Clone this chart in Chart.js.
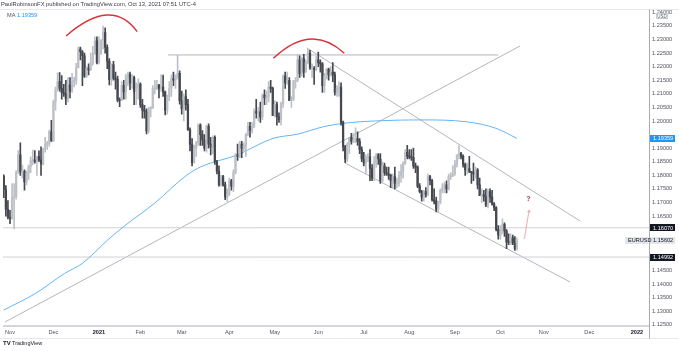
<!DOCTYPE html>
<html><head><meta charset="utf-8">
<script src="https://cdn.jsdelivr.net/npm/chart.js@4"></script>
<style>html,body{margin:0;padding:0;background:#fff;overflow:hidden}</style>
</head><body>
<canvas id="c" width="679" height="351" style="display:block;width:679px;height:351px"></canvas>
<script>
// ---- DATA (EURUSD daily) ----
const firstBar = -3; // bar index of the first candle (Oct 28 2020); Nov 2 2020 = 0
const openP = [
1.1795,1.1748,1.1675,
1.1646,1.1641,1.1717,1.1723,1.1812,1.1875,1.1813,1.1814,1.1776,1.1808,1.1833,1.1853,1.1857,1.1851,1.1870,1.1857,1.1842,1.1895,1.1914,1.1917,1.1961,
1.1927,1.2070,1.2114,1.2145,1.2120,1.2104,1.2100,1.2081,1.2133,1.2110,1.2146,1.2150,1.2196,1.2265,1.2255,1.2240,1.2165,1.2195,1.2188,1.2215,1.2250,1.2295,
1.2216,1.2250,1.2297,1.2325,1.2271,1.2220,1.2152,1.2208,1.2157,1.2153,1.2077,1.2076,1.2131,1.2107,1.2163,1.2173,1.2140,1.2160,1.2110,1.2120,
1.2136,1.2060,1.2040,1.2035,1.1963,1.2045,1.2050,1.2118,1.2121,1.2132,1.2120,1.2125,1.2106,1.2040,1.2090,1.2120,1.2155,1.2150,1.2165,1.2175,
1.2075,1.2045,1.2090,1.2060,1.1968,1.1915,1.1847,1.1900,1.1920,1.1985,1.1950,1.1930,1.1900,1.1980,1.1915,1.1905,1.1940,1.1850,1.1815,1.1765,1.1795,1.1765,1.1720,
1.1730,1.1780,1.1760,1.1810,1.1875,1.1870,1.1915,1.1900,1.1910,1.1950,1.1980,1.1965,1.1980,1.2035,1.2030,1.2035,1.2015,1.2095,1.2085,1.2090,1.2125,1.2120,
1.2020,1.2060,1.2015,1.2005,1.2065,1.2165,1.2140,1.2150,1.2075,1.2080,1.2145,1.2150,1.2225,1.2175,1.2230,1.2180,1.2215,1.2250,1.2195,1.2195,1.2190,
1.2225,1.2215,1.2210,1.2130,1.2165,1.2190,1.2170,1.2180,1.2170,1.2105,1.2120,1.2125,1.1995,1.1905,1.1860,1.1915,1.1940,1.1925,1.1930,1.1935,1.1925,1.1895,
1.1860,1.1845,1.1865,1.1868,1.1825,1.1790,1.1845,1.1875,1.1860,1.1780,1.1835,1.1810,1.1805,1.1800,1.1780,1.1795,1.1770,1.1770,1.1800,1.1815,1.1845,1.1885,
1.1870,1.1868,1.1865,1.1835,1.1830,1.1760,1.1740,1.1720,1.1740,1.1730,1.1795,1.1780,1.1710,1.1705,1.1675,1.1700,1.1745,1.1755,1.1765,1.1750,1.1795,1.1800,
1.1805,1.1840,1.1875,1.1880,1.1870,1.1840,1.1820,1.1825,1.1815,1.1810,1.1805,1.1820,1.1765,1.1725,1.1728,1.1722,1.1690,1.1740,1.1720,1.1695,1.1680,1.1600,
1.1580,1.1595,1.1620,1.1595,1.1555,1.1553,1.1570,1.1550,1.1530];
const highP = [
1.1802,1.1762,1.1707,
1.1671,1.1770,1.1770,1.1817,1.1891,1.1920,1.1838,1.1820,1.1817,1.1838,1.1868,1.1893,1.1891,1.1870,1.1890,1.1905,1.1900,1.1940,1.1925,1.1967,1.2002,
1.2077,1.2125,1.2177,1.2178,1.2167,1.2135,1.2150,1.2160,1.2160,1.2175,1.2162,1.2212,1.2273,1.2272,1.2259,1.2250,1.2200,1.2210,1.2250,1.2275,1.2310,1.2310,
1.2310,1.2300,1.2349,1.2343,1.2280,1.2230,1.2210,1.2220,1.2180,1.2165,1.2085,1.2145,1.2150,1.2172,1.2180,1.2180,1.2170,1.2165,1.2140,1.2155,
1.2140,1.2080,1.2058,1.2045,1.2050,1.2053,1.2130,1.2150,1.2150,1.2135,1.2170,1.2169,1.2110,1.2095,1.2145,1.2170,1.2180,1.2170,1.2243,1.2185,
1.2110,1.2100,1.2115,1.2080,1.1975,1.1935,1.1910,1.1925,1.1990,1.1990,1.1965,1.1950,1.1985,1.1990,1.1940,1.1945,1.1945,1.1855,1.1835,1.1800,1.1800,1.1775,1.1750,
1.1790,1.1785,1.1820,1.1880,1.1915,1.1925,1.1925,1.1920,1.1955,1.1995,1.1995,1.1995,1.2045,1.2080,1.2050,1.2070,1.2100,1.2115,1.2110,1.2145,1.2150,1.2125,
1.2075,1.2070,1.2030,1.2070,1.2170,1.2180,1.2180,1.2160,1.2090,1.2150,1.2160,1.2245,1.2240,1.2235,1.2245,1.2225,1.2266,1.2260,1.2210,1.2200,1.2240,
1.2254,1.2225,1.2215,1.2175,1.2195,1.2195,1.2200,1.2215,1.2180,1.2130,1.2145,1.2140,1.2000,1.1910,1.1920,1.1940,1.1955,1.1955,1.1975,1.1960,1.1935,1.1905,
1.1885,1.1875,1.1880,1.1895,1.1840,1.1870,1.1880,1.1880,1.1880,1.1850,1.1845,1.1830,1.1830,1.1805,1.1805,1.1830,1.1790,1.1815,1.1840,1.1850,1.1895,1.1910,
1.1895,1.1895,1.1900,1.1845,1.1835,1.1770,1.1745,1.1745,1.1755,1.1805,1.1800,1.1785,1.1750,1.1720,1.1705,1.1750,1.1770,1.1775,1.1780,1.1805,1.1810,1.1835,
1.1855,1.1875,1.1909,1.1885,1.1875,1.1845,1.1845,1.1870,1.1815,1.1845,1.1830,1.1825,1.1790,1.1750,1.1745,1.1750,1.1750,1.1750,1.1745,1.1700,1.1685,1.1615,
1.1615,1.1640,1.1625,1.1600,1.1585,1.1585,1.1580,1.1575,1.1570];
const lowP = [
1.1718,1.1650,1.1640,
1.1622,1.1638,1.1603,1.1712,1.1806,1.1800,1.1790,1.1745,1.1765,1.1785,1.1810,1.1838,1.1845,1.1800,1.1850,1.1800,1.1838,1.1885,1.1895,1.1906,1.1925,
1.1925,1.2040,1.2110,1.2110,1.2080,1.2090,1.2060,1.2070,1.2085,1.2105,1.2125,1.2135,1.2195,1.2225,1.2130,1.2160,1.2160,1.2170,1.2185,1.2205,1.2245,1.2210,
1.2210,1.2245,1.2265,1.2250,1.2193,1.2133,1.2132,1.2150,1.2117,1.2070,1.2053,1.2075,1.2080,1.2080,1.2130,1.2115,1.2120,1.2060,1.2060,1.2080,
1.2050,1.2010,1.2010,1.1952,1.1955,1.2015,1.2045,1.2100,1.2115,1.2085,1.2110,1.2090,1.2022,1.2025,1.2075,1.2090,1.2130,1.2120,1.2155,1.2062,
1.2025,1.2000,1.2040,1.1965,1.1890,1.1835,1.1845,1.1870,1.1910,1.1910,1.1910,1.1890,1.1885,1.1900,1.1875,1.1880,1.1840,1.1805,1.1760,1.1760,1.1760,1.1710,1.1704,
1.1725,1.1745,1.1740,1.1805,1.1855,1.1865,1.1865,1.1890,1.1870,1.1945,1.1940,1.1955,1.1975,1.2010,1.2000,1.1995,1.2005,1.2060,1.2060,1.2070,1.2105,1.2020,
1.2015,1.1985,1.1995,1.1985,1.2050,1.2120,1.2135,1.2075,1.2050,1.2075,1.2120,1.2145,1.2160,1.2165,1.2160,1.2180,1.2210,1.2190,1.2160,1.2135,1.2185,
1.2200,1.2180,1.2105,1.2105,1.2155,1.2150,1.2165,1.2145,1.2095,1.2090,1.2090,1.1985,1.1890,1.1847,1.1850,1.1880,1.1915,1.1920,1.1920,1.1910,1.1880,1.1850,
1.1835,1.1805,1.1850,1.1780,1.1780,1.1780,1.1830,1.1840,1.1770,1.1775,1.1800,1.1800,1.1785,1.1755,1.1755,1.1750,1.1755,1.1760,1.1775,1.1790,1.1840,1.1860,
1.1860,1.1855,1.1825,1.1810,1.1755,1.1735,1.1705,1.1705,1.1720,1.1725,1.1765,1.1705,1.1695,1.1665,1.1664,1.1695,1.1735,1.1735,1.1735,1.1745,1.1785,1.1795,
1.1800,1.1830,1.1860,1.1860,1.1830,1.1800,1.1805,1.1810,1.1770,1.1780,1.1790,1.1750,1.1725,1.1700,1.1705,1.1685,1.1680,1.1700,1.1690,1.1670,1.1595,1.1565,
1.1565,1.1585,1.1575,1.1530,1.1545,1.1545,1.1545,1.1524,1.1525];
const closeP = [
1.1748,1.1675,1.1646,
1.1641,1.1717,1.1723,1.1812,1.1875,1.1813,1.1814,1.1776,1.1808,1.1833,1.1853,1.1857,1.1851,1.1870,1.1857,1.1842,1.1895,1.1914,1.1917,1.1961,1.1927,
1.2070,1.2114,1.2145,1.2120,1.2104,1.2100,1.2081,1.2133,1.2110,1.2146,1.2150,1.2196,1.2265,1.2255,1.2240,1.2165,1.2195,1.2188,1.2215,1.2250,1.2295,1.2216,
1.2250,1.2297,1.2325,1.2271,1.2220,1.2152,1.2208,1.2157,1.2153,1.2077,1.2076,1.2131,1.2107,1.2163,1.2173,1.2140,1.2160,1.2110,1.2120,1.2136,
1.2060,1.2040,1.2035,1.1963,1.2045,1.2050,1.2118,1.2121,1.2132,1.2120,1.2125,1.2106,1.2040,1.2090,1.2120,1.2155,1.2150,1.2165,1.2175,1.2075,
1.2045,1.2090,1.2060,1.1968,1.1915,1.1847,1.1900,1.1920,1.1985,1.1950,1.1930,1.1900,1.1980,1.1915,1.1905,1.1940,1.1850,1.1815,1.1765,1.1795,1.1765,1.1720,1.1730,
1.1780,1.1760,1.1810,1.1875,1.1870,1.1915,1.1900,1.1910,1.1950,1.1980,1.1965,1.1980,1.2035,1.2030,1.2035,1.2015,1.2095,1.2085,1.2090,1.2125,1.2120,1.2020,
1.2060,1.2015,1.2005,1.2065,1.2165,1.2140,1.2150,1.2075,1.2080,1.2145,1.2150,1.2225,1.2175,1.2230,1.2180,1.2215,1.2250,1.2195,1.2195,1.2190,1.2225,
1.2215,1.2210,1.2130,1.2165,1.2190,1.2170,1.2180,1.2170,1.2105,1.2120,1.2125,1.1995,1.1905,1.1860,1.1915,1.1940,1.1925,1.1930,1.1935,1.1925,1.1895,1.1860,
1.1845,1.1865,1.1868,1.1825,1.1790,1.1845,1.1875,1.1860,1.1780,1.1835,1.1810,1.1805,1.1800,1.1780,1.1795,1.1770,1.1770,1.1800,1.1815,1.1845,1.1885,1.1870,
1.1868,1.1865,1.1835,1.1830,1.1760,1.1740,1.1720,1.1740,1.1730,1.1795,1.1780,1.1710,1.1705,1.1675,1.1700,1.1745,1.1755,1.1765,1.1750,1.1795,1.1800,1.1805,
1.1840,1.1875,1.1880,1.1870,1.1840,1.1820,1.1825,1.1815,1.1810,1.1805,1.1820,1.1765,1.1725,1.1728,1.1722,1.1690,1.1740,1.1720,1.1695,1.1680,1.1600,1.1580,
1.1595,1.1620,1.1595,1.1555,1.1553,1.1570,1.1550,1.1530,1.15602];

// Moving average: bar index / value
const maIdx = [-3.1,12.5,26.4,35,47.2,55.9,69.8,85.5,92.4,109.8,127.1,139.3,151.5,161.9,179.3,198.4,220.8,234.9,245];
const maVal = [1.1304,1.1366,1.1439,1.1476,1.1562,1.1617,1.1697,1.1801,1.1832,1.1875,1.1936,1.1952,1.1979,1.1992,1.2001,1.2004,1.1997,1.1973,1.19359];

// Time-axis tick labels (bar index of first bar of each month)
const monthTickIdx = [0,21,43,63,83,106,128,149,171,193,215,237,258,280,303];
const monthTickLabels = ['Nov','Dec','2021','Feb','Mar','Apr','May','Jun','Jul','Aug','Sep','Oct','Nov','Dec','2022'];
// Price-axis ticks
const priceTicks = [1.125,1.13,1.135,1.14,1.145,1.15,1.155,1.16,1.165,1.17,1.175,1.18,1.185,1.19,1.195,1.2,1.205,1.21,1.215,1.22,1.225,1.23,1.235,1.24];

// Drawn levels and trend lines (bar index, price)
const hLevels = [1.16070, 1.14992];
const resistance = {from:76.4, to:235.9, price:1.2243};
const risingLine = [[-2.4,1.12602],[246.5,1.22760]];
const upperChannel = [[143.5,1.22687],[275.5,1.16320]];
const lowerChannel = [[161.9,1.18454],[270.7,1.14074]];
const arcs = [ // start, apex, end
  [[27.1,1.23128],[46.7,1.23901],[61.5,1.23287]],
  [[127.3,1.22308],[145.0,1.23018],[161.6,1.22492]]
];
const arrowPts = [[248.6,1.15657],[250.9,1.16724]];
const questionPt = [250.6,1.17129];
const maLast = 1.19359, lastPrice = 1.15602;
const badgeValues = [maLast, hLevels[0], hLevels[1], lastPrice];

const X_MIN = -3.38, X_MAX = 308.84, Y_MIN = 1.12473, Y_MAX = 1.24085;
const FONT = '"Liberation Sans", Arial, sans-serif';
const UP = '#bdc0c7', DOWN = '#45484e', LINE = '#b4b6bc';

const candleColors = closeP.map((c,k)=> c >= openP[k] ? UP : DOWN);
const wickData = lowP.map((l,k)=>({x:firstBar+k, y:[l, highP[k]]}));
const bodyData = openP.map((o,k)=>({x:firstBar+k, y:[o, closeP[k]]}));
const seg = (pts)=>pts.map(p=>({x:p[0],y:p[1]}));
const lineDs = (data,color,w)=>({type:'line',data,borderColor:color,borderWidth:w||1,pointRadius:0,fill:false,tension:0,order:5});

const overlay = {
  id:'overlay',
  afterDatasetsDraw(chart){
    const {ctx, scales:{x,y}} = chart;
    const P = p=>[x.getPixelForValue(p[0]), y.getPixelForValue(p[1])];
    ctx.save();
    ctx.strokeStyle = '#d5343a'; ctx.lineWidth = 1.4;
    arcs.forEach(a=>{
      const s=P(a[0]), m=P(a[1]), e=P(a[2]);
      const cx = 2*m[0]-(s[0]+e[0])/2, cy = 2*m[1]-(s[1]+e[1])/2;
      ctx.beginPath(); ctx.moveTo(s[0],s[1]); ctx.quadraticCurveTo(cx,cy,e[0],e[1]); ctx.stroke();
    });
    const a0=P(arrowPts[0]), a1=P(arrowPts[1]);
    ctx.strokeStyle='#f0a0a0'; ctx.lineWidth=0.9;
    ctx.beginPath(); ctx.moveTo(a0[0],a0[1]); ctx.lineTo(a1[0],a1[1]); ctx.stroke();
    const ang=Math.atan2(a1[1]-a0[1],a1[0]-a0[0]);
    ctx.beginPath();
    ctx.moveTo(a1[0]-3*Math.cos(ang-0.5),a1[1]-3*Math.sin(ang-0.5));
    ctx.lineTo(a1[0],a1[1]);
    ctx.lineTo(a1[0]-3*Math.cos(ang+0.5),a1[1]-3*Math.sin(ang+0.5));
    ctx.stroke();
    const q=P(questionPt);
    ctx.fillStyle='#c0392b'; ctx.font='bold 7px '+FONT; ctx.textAlign='center'; ctx.textBaseline='middle';
    ctx.fillText('?', q[0], q[1]);
    ctx.restore();
  },
  afterDraw(chart){
    const {ctx, chartArea:ca, scales:{x,y}} = chart;
    ctx.save();
    ctx.lineWidth=1;
    ctx.strokeStyle='#e6e8ec';
    ctx.beginPath(); ctx.moveTo(0,9.5); ctx.lineTo(679,9.5); ctx.stroke();
    ctx.beginPath(); ctx.moveTo(0,338.5); ctx.lineTo(679,338.5); ctx.stroke();
    ctx.strokeStyle='#a9acb3';
    ctx.beginPath(); ctx.moveTo(ca.left,ca.bottom+0.5); ctx.lineTo(ca.right,ca.bottom+0.5); ctx.stroke();
    ctx.beginPath(); ctx.moveTo(ca.right+0.5,9.5); ctx.lineTo(ca.right+0.5,338.5); ctx.stroke();
    const badge=(x0,yc,w,bg,fg,txt)=>{
      ctx.fillStyle=bg; ctx.fillRect(x0,Math.round(yc-3.5),w,7);
      ctx.fillStyle=fg; ctx.font='5.6px '+FONT; ctx.textAlign='left'; ctx.textBaseline='middle';
      ctx.fillText(txt,x0+3,yc+0.3);
    };
    const bx = ca.right+1;
    badge(bx, y.getPixelForValue(maLast), 25, '#2196f3', '#ffffff', maLast.toFixed(5));
    badge(bx, y.getPixelForValue(hLevels[0]), 25, '#131722', '#ffffff', hLevels[0].toFixed(5));
    badge(bx, y.getPixelForValue(hLevels[1]), 25, '#131722', '#ffffff', hLevels[1].toFixed(5));
    badge(bx, y.getPixelForValue(lastPrice), 25, '#e3e5ea', '#131722', lastPrice.toFixed(5));
    badge(ca.right-24, y.getPixelForValue(lastPrice), 23, '#e3e5ea', '#131722', 'EURUSD');
    ctx.fillStyle='#ffffff'; ctx.fillRect(656,13,12,6);
    ctx.strokeStyle='#c9ccd2'; ctx.strokeRect(656.5,13.5,11,5);
    ctx.fillStyle='#50535e'; ctx.font='4.5px '+FONT; ctx.textAlign='center'; ctx.textBaseline='middle';
    ctx.fillText('USD',662,16.3);
    ctx.textAlign='left'; ctx.textBaseline='middle';
    ctx.fillStyle='#3a3d45'; ctx.font='5.8px '+FONT;
    ctx.fillText('PaulRobinsonFX published on TradingView.com, Oct 13, 2021 07:51 UTC-4', 1, 4.8);
    ctx.fillStyle='#50535e'; ctx.font='5.6px '+FONT;
    ctx.fillText('MA', 7, 15.5);
    ctx.fillStyle='#2196f3';
    ctx.fillText(maLast.toFixed(5), 17, 15.5);
    ctx.fillStyle='#131722'; ctx.font='bold 6px '+FONT;
    ctx.fillText('TV', 3, 343.5);
    ctx.font='5.5px '+FONT;
    ctx.fillText('TradingView', 12, 343.5);
    ctx.restore();
  }
};

let yScaleRef = null;
new Chart(document.getElementById('c'), {
  type:'bar',
  data:{datasets:[
    lineDs(seg([[X_MIN,hLevels[0]],[X_MAX,hLevels[0]]]),'#cfd1d6'),
    lineDs(seg([[X_MIN,hLevels[1]],[X_MAX,hLevels[1]]]),'#cfd1d6'),
    lineDs(seg([[resistance.from,resistance.price],[resistance.to,resistance.price]]),LINE),
    lineDs(seg(risingLine),LINE),
    lineDs(seg(upperChannel),LINE),
    lineDs(seg(lowerChannel),LINE),
    {type:'line',data:maIdx.map((v,k)=>({x:v,y:maVal[k]})),borderColor:'#64b5f6',borderWidth:1,pointRadius:0,fill:false,cubicInterpolationMode:'monotone',order:4},
    {type:'bar',data:wickData,backgroundColor:candleColors,barThickness:1,grouped:false,borderWidth:0,order:2},
    {type:'bar',data:bodyData,backgroundColor:candleColors,barThickness:1.6,grouped:false,borderWidth:0,minBarLength:1,order:1}
  ]},
  options:{
    responsive:false, animation:false, events:[],
    layout:{padding:{top:10,left:3,right:0,bottom:0}},
    plugins:{legend:{display:false},tooltip:{enabled:false}},
    scales:{
      x:{type:'linear',min:X_MIN,max:X_MAX,offset:false,
        grid:{display:false,drawTicks:false},border:{display:false},
        afterBuildTicks:s=>{s.ticks=monthTickIdx.map(v=>({value:v}));},
        afterFit:s=>{s.height=25.5;},
        ticks:{autoSkip:false,maxRotation:0,minRotation:0,padding:3.5,
          callback:(v,i)=>monthTickLabels[i],
          color:c=>/^20/.test(monthTickLabels[c.index]||'')?'#131722':'#50535e',
          font:c=>({family:FONT,size:5.6,weight:/^20/.test(monthTickLabels[c.index]||'')?'bold':'normal'})}
      },
      y:{position:'right',min:Y_MIN,max:Y_MAX,
        grid:{display:false,drawTicks:false},border:{display:false},
        afterBuildTicks:s=>{s.ticks=priceTicks.map(v=>({value:v}));},
        afterFit:s=>{s.width=30;},
        ticks:{padding:3,autoSkip:false,
          // hide labels that sit under a price badge (as on the reference)
          callback:v=>badgeValues.some(b=>Math.abs(b-v)*2717<7)?'':Number(v).toFixed(5),
          color:'#50535e',font:{family:FONT,size:5.6}}
      }
    }
  },
  plugins:[overlay]
});
</script>
</body></html>
